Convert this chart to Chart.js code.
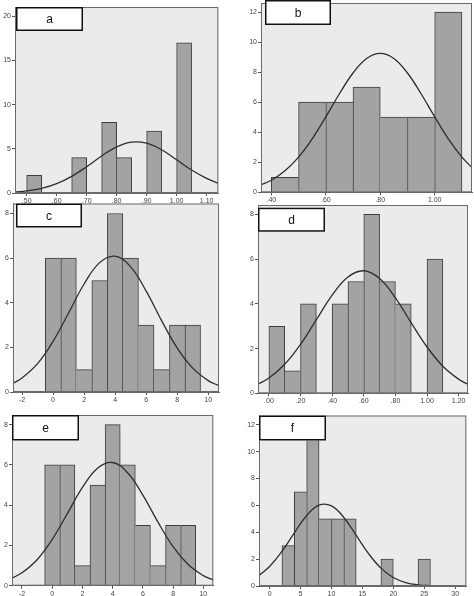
<!DOCTYPE html>
<html>
<head>
<meta charset="utf-8">
<script src="https://cdn.jsdelivr.net/npm/chart.js@4.4.1/dist/chart.umd.min.js"></script>
<style>
  body { margin: 0; background: #fff; width: 474px; height: 596px; position: relative; overflow: hidden; }
  canvas { position: absolute; }
</style>
</head>
<body>
<canvas id="ca"></canvas>
<canvas id="cb"></canvas>
<canvas id="cc"></canvas>
<canvas id="cd"></canvas>
<canvas id="ce"></canvas>
<canvas id="cf"></canvas>
<script>
// --- DATA ---
// panel a
const binsA = [0.525, 0.575, 0.625, 0.675, 0.725, 0.775, 0.825, 0.875, 0.925, 0.975, 1.025];
const countsA = [2, 0, 0, 4, 0, 8, 4, 0, 7, 0, 17];
const curveXA = [0.46, 0.50, 0.55, 0.60, 0.65, 0.70, 0.75, 0.80, 0.85, 0.90, 0.95, 1.00, 1.05, 1.10, 1.14];
const curveYA = [0.11, 0.23, 0.52, 1.05, 1.88, 2.98, 4.19, 5.22, 5.76, 5.64, 4.89, 3.76, 2.6, 1.65, 1.1];
const xTicksA = [0.5, 0.6, 0.7, 0.8, 0.9, 1.0, 1.1];
const xLabelsA = ['.50', '.60', '.70', '.80', '.90', '1.00', '1.10'];
const yTicksA = [0, 5, 10, 15, 20];

// panel b
const binsB = [0.45, 0.55, 0.65, 0.75, 0.85, 0.95, 1.05];
const countsB = [1, 6, 6, 7, 5, 5, 12];
const curveXB = [0.36, 0.40, 0.45, 0.50, 0.55, 0.60, 0.65, 0.70, 0.75, 0.80, 0.85, 0.90, 0.95, 1.00, 1.05, 1.10, 1.14];
const curveYB = [0.48, 0.8, 1.43, 2.34, 3.56, 5.02, 6.56, 7.94, 8.91, 9.25, 8.91, 7.94, 6.56, 5.02, 3.56, 2.34, 1.59];
const xTicksB = [0.4, 0.6, 0.8, 1.0];
const xLabelsB = ['.40', '.60', '.80', '1.00'];
const yTicksB = [0, 2, 4, 6, 8, 10, 12];

// panel c
const binsC = [0, 1, 2, 3, 4, 5, 6, 7, 8, 9];
const countsC = [6, 6, 1, 5, 8, 6, 3, 1, 3, 3];
const curveXC = [-2.6, -2, -1, 0, 1, 2, 3, 4, 5, 6, 7, 8, 9, 10, 10.7];
const curveYC = [0.38, 0.63, 1.27, 2.27, 3.54, 4.84, 5.8, 6.09, 5.61, 4.52, 3.19, 1.97, 1.07, 0.51, 0.28];
const xTicksC = [-2, 0, 2, 4, 6, 8, 10];
const xLabelsC = ['-2', '0', '2', '4', '6', '8', '10'];
const yTicksC = [0, 2, 4, 6, 8];

// panel d
const binsD = [0.05, 0.15, 0.25, 0.35, 0.45, 0.55, 0.65, 0.75, 0.85, 0.95, 1.05];
const countsD = [3, 1, 4, 0, 4, 5, 8, 5, 4, 0, 6];
const curveXD = [-0.07, 0, 0.1, 0.2, 0.3, 0.4, 0.5, 0.6, 0.7, 0.8, 0.9, 1.0, 1.1, 1.2, 1.26];
const curveYD = [0.41, 0.68, 1.3, 2.19, 3.29, 4.39, 5.2, 5.48, 5.13, 4.27, 3.15, 2.07, 1.21, 0.63, 0.4];
const xTicksD = [0, 0.2, 0.4, 0.6, 0.8, 1.0, 1.2];
const xLabelsD = ['.00', '.20', '.40', '.60', '.80', '1.00', '1.20'];
const yTicksD = [0, 2, 4, 6, 8];

// panel e
const binsE = [0, 1, 2, 3, 4, 5, 6, 7, 8, 9];
const countsE = [6, 6, 1, 5, 8, 6, 3, 1, 3, 3];
const curveXE = [-2.7, -2, -1, 0, 1, 2, 3, 4, 5, 6, 7, 8, 9, 10, 10.7];
const curveYE = [0.36, 0.64, 1.29, 2.3, 3.58, 4.88, 5.84, 6.12, 5.6, 4.5, 3.16, 1.94, 1.05, 0.5, 0.27];
const xTicksE = [-2, 0, 2, 4, 6, 8, 10];
const xLabelsE = ['-2', '0', '2', '4', '6', '8', '10'];
const yTicksE = [0, 2, 4, 6, 8];

// panel f
const binsF = [3, 5, 7, 9, 11, 13, 15, 17, 19, 21, 23, 25];
const countsF = [3, 7, 11, 5, 5, 5, 0, 0, 2, 0, 0, 2];
const curveXF = [-1.7, 0, 2, 4, 6, 8, 10, 12, 14, 16, 18, 20, 22, 24, 26, 28, 30, 31.8];
const curveYF = [0.79, 1.45, 2.57, 3.95, 5.25, 6.02, 5.96, 5.1, 3.77, 2.41, 1.33, 0.63, 0.26, 0.09, 0.03, 0.01, 0, 0];
const xTicksF = [0, 5, 10, 15, 20, 25, 30];
const xLabelsF = ['0', '5', '10', '15', '20', '25', '30'];
const yTicksF = [0, 2, 4, 6, 8, 10, 12];

// --- LAYOUT ---
const panels = [
    { id: 'a', left: 0, top: 0, w: 237, h: 206, area: { l: 15, t: 7, r: 218.3, b: 193 },
      xMin: 0.461, xMax: 1.139, yMax: 21.05, box: { dx: 1, dy: 0, w: 67, h: 24 },
      bins: binsA, counts: countsA, curveX: curveXA, curveY: curveYA, xTicks: xTicksA, xLabels: xLabelsA, yTicks: yTicksA },
    { id: 'b', left: 237, top: -5, w: 237, h: 211, area: { l: 24, t: 8, r: 235, b: 197.3 },
      xMin: 0.362, xMax: 1.137, yMax: 12.6, box: { dx: 4, dy: -3, w: 66, h: 25 },
      bins: binsB, counts: countsB, curveX: curveXB, curveY: curveYB, xTicks: xTicksB, xLabels: xLabelsB, yTicks: yTicksB },
    { id: 'c', left: 0, top: 195, w: 237, h: 211, area: { l: 13, t: 8.5, r: 219, b: 197 },
      xMin: -2.58, xMax: 10.69, yMax: 8.45, box: { dx: 3, dy: 0, w: 66, h: 24 },
      bins: binsC, counts: countsC, curveX: curveXC, curveY: curveYC, xTicks: xTicksC, xLabels: xLabelsC, yTicks: yTicksC },
    { id: 'd', left: 237, top: 198, w: 237, h: 208, area: { l: 21, t: 7, r: 231, b: 195.3 },
      xMin: -0.069, xMax: 1.259, yMax: 8.42, box: { dx: 0, dy: 2.7, w: 67, h: 24 },
      bins: binsD, counts: countsD, curveX: curveXD, curveY: curveYD, xTicks: xTicksD, xLabels: xLabelsD, yTicks: yTicksD },
    { id: 'e', left: 0, top: 406, w: 237, h: 190, area: { l: 12, t: 9, r: 213.3, b: 179.7 },
      xMin: -2.66, xMax: 10.66, yMax: 8.48, box: { dx: 0, dy: 0, w: 67, h: 25.5 },
      bins: binsE, counts: countsE, curveX: curveXE, curveY: curveYE, xTicks: xTicksE, xLabels: xLabelsE, yTicks: yTicksE },
    { id: 'f', left: 237, top: 406, w: 237, h: 190, area: { l: 22, t: 9.5, r: 229.3, b: 180 },
      xMin: -1.71, xMax: 31.8, yMax: 12.69, box: { dx: 0, dy: 0, w: 67, h: 25 },
      bins: binsF, counts: countsF, curveX: curveXF, curveY: curveYF, xTicks: xTicksF, xLabels: xLabelsF, yTicks: yTicksF }
];

const tickFont = { family: 'Liberation Sans, Arial, sans-serif', size: 7 };

function makePanel(p) {
    const cv = document.getElementById('c' + p.id);
    cv.width = p.w;
    cv.height = p.h;
    cv.style.left = p.left + 'px';
    cv.style.top = p.top + 'px';
    const a = p.area;

    const bars = p.bins.map((x, i) => ({ x: x, y: p.counts[i] }));
    const curve = p.curveX.map((x, i) => ({ x: x, y: p.curveY[i] }));

    // shared edge between two bars is drawn once, by the taller one
    const barBorder = ctx => {
        const i = ctx.dataIndex;
        const c = p.counts[i] || 0;
        const prev = p.counts[i - 1] || 0;
        const next = p.counts[i + 1] || 0;
        return { top: 1, bottom: 0, left: prev <= c ? 1 : 0, right: next < c ? 1 : 0 };
    };

    const frame = {
        id: 'frame' + p.id,
        beforeDraw(chart) {
            const ca = chart.chartArea, ctx = chart.ctx;
            ctx.save();
            ctx.fillStyle = '#ebebeb';
            ctx.fillRect(ca.left, ca.top, ca.right - ca.left, ca.bottom - ca.top);
            ctx.restore();
        },
        afterDatasetsDraw(chart) {
            const ca = chart.chartArea, ctx = chart.ctx;
            ctx.save();
            ctx.strokeStyle = '#6a6a6a';
            ctx.lineWidth = 1;
            ctx.strokeRect(ca.left + 0.5, ca.top + 0.5, ca.right - ca.left - 1, ca.bottom - ca.top - 1);
            // panel letter box
            const bx = ca.left + p.box.dx, by = ca.top + p.box.dy;
            ctx.fillStyle = '#fff';
            ctx.fillRect(bx, by, p.box.w, p.box.h);
            ctx.strokeStyle = '#111';
            ctx.lineWidth = 1.5;
            ctx.strokeRect(bx + 0.75, by + 0.75, p.box.w - 1.5, p.box.h - 1.5);
            ctx.fillStyle = '#111';
            ctx.font = '12px "Liberation Sans", Arial, sans-serif';
            ctx.textAlign = 'center';
            ctx.textBaseline = 'middle';
            ctx.fillText(p.id, bx + p.box.w / 2, by + p.box.h / 2 + 1);
            ctx.restore();
        }
    };

    new Chart(cv, {
        type: 'bar',
        data: {
            datasets: [
                {
                    type: 'line',
                    data: curve,
                    borderColor: '#2e2e2e',
                    borderWidth: 1.3,
                    pointRadius: 0,
                    tension: 0.4,
                    fill: false
                },
                {
                    data: bars,
                    backgroundColor: '#a3a3a3',
                    borderColor: '#3d3d3d',
                    borderWidth: barBorder,
                    borderSkipped: 'start',
                    barPercentage: 1,
                    categoryPercentage: 1
                }
            ]
        },
        plugins: [frame],
        options: {
            responsive: false,
            animation: false,
            events: [],
            layout: { padding: { top: a.t, right: p.w - a.r, left: 0, bottom: 0 } },
            plugins: { legend: { display: false }, tooltip: { enabled: false } },
            scales: {
                x: {
                    type: 'linear',
                    offset: false,
                    min: p.xMin,
                    max: p.xMax,
                    afterFit: s => { s.height = p.h - a.b; },
                    afterBuildTicks: s => { s.ticks = p.xTicks.map(v => ({ value: v })); },
                    ticks: { callback: (v, i) => p.xLabels[i], font: tickFont, color: '#444', padding: 1, maxRotation: 0, autoSkip: false },
                    grid: { offset: false, drawOnChartArea: false, tickLength: 3, color: '#555' },
                    border: { color: '#6a6a6a' }
                },
                y: {
                    type: 'linear',
                    min: 0,
                    max: p.yMax,
                    afterFit: s => { s.width = a.l; },
                    afterBuildTicks: s => { s.ticks = p.yTicks.map(v => ({ value: v })); },
                    ticks: { font: tickFont, color: '#444', padding: 1, autoSkip: false },
                    grid: { drawOnChartArea: false, tickLength: 3, color: '#555' },
                    border: { color: '#6a6a6a' }
                }
            }
        }
    });
}

panels.forEach(makePanel);
</script>
</body>
</html>
